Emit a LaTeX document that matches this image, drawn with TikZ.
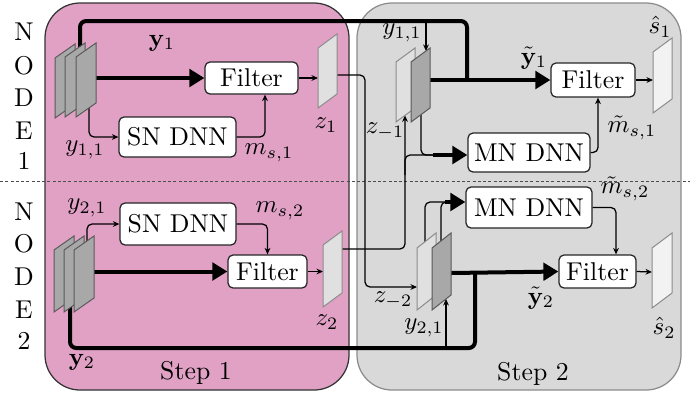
\documentclass[tikz,border=0pt]{standalone}
\usetikzlibrary{arrows.meta}
\definecolor{pinkbg}{RGB}{224,161,197}
\definecolor{graybg}{RGB}{217,217,217}
\definecolor{darkplate}{RGB}{168,168,168}
\definecolor{lightplate}{RGB}{224,224,224}
\definecolor{outplate}{RGB}{242,242,242}
\newcommand\myplate[6]{\draw[#6] (#1,#2) -- ++(0,-#3) -- ++(#4,-#5) -- ++(0,#3) -- cycle;}
\tikzset{
  txt/.style={font=\fontsize{10.3}{12}\selectfont},
  blk/.style={txt, draw=black!85, fill=white, rounded corners=2pt, line width=0.5pt, inner sep=0pt},
  conn/.style={line width=0.5pt, rounded corners=2pt},
  arr/.style={conn, -{Stealth[length=2.6pt,width=2.3pt]}},
  big/.style={line width=1.6pt, rounded corners=2.5pt},
  bigarr/.style={big, -{Triangle[length=6pt,width=7pt]}},
  lbl/.style={txt, inner sep=0pt},
  dplate/.style={fill=darkplate, draw=black!65, line width=0.4pt},
  lplate/.style={fill=lightplate, draw=black!45, line width=0.4pt},
  oplate/.style={fill=outplate, draw=black!45, line width=0.4pt},
}
\begin{document}
\begin{tikzpicture}[x=0.4pt,y=-0.4pt]
\useasboundingbox (0,0) rectangle (700,396);
% step boxes
\path[fill=pinkbg, draw=black!80, line width=0.5pt, rounded corners=14pt] (45,3) rectangle (349,390);
\path[fill=graybg, draw=black!45, line width=0.5pt, rounded corners=14pt] (357,3) rectangle (681,390);
\draw[dash pattern=on 1.2pt off 0.9pt, black!70, line width=0.35pt] (0,181) -- (690,181);
% left labels
\foreach \t/\y [count=\i] in {N/32,O/66,D/98,E/131,1/161} \node[lbl] (la\i) at (24,\y) {\t};
\foreach \t/\y [count=\i] in {N/212,O/244,D/277,E/310,2/341} \node[lbl] (lb\i) at (24,\y) {\t};
% blocks
\node[blk, minimum width=37.2pt, minimum height=12.8pt] (f11) at (251.5,78) {Filter};
\node[blk, minimum width=46.8pt, minimum height=16pt] (sn1) at (177.5,137) {SN DNN};
\node[blk, minimum width=46.4pt, minimum height=16.8pt] (sn2) at (178,224) {SN DNN};
\node[blk, minimum width=31.6pt, minimum height=13.2pt] (f21) at (267.5,271.5) {Filter};
\node[blk, minimum width=33.6pt, minimum height=13.6pt] (f12) at (593,80) {Filter};
\node[blk, minimum width=48.8pt, minimum height=15.6pt] (mn1) at (529,152.5) {MN DNN};
\node[blk, minimum width=50.4pt, minimum height=16.4pt] (mn2) at (529,207.5) {MN DNN};
\node[blk, minimum width=30.8pt, minimum height=13.2pt] (f22) at (597.5,271.5) {Filter};
% coordinates
\coordinate (s1a) at (96,78);
\coordinate (s1top) at (80,60);
\coordinate (s1bot) at (89,100);
\coordinate (z1in) at (318,78);
\coordinate (z1out) at (337,75);
\coordinate (s2a) at (94,271.5);
\coordinate (s2top) at (87,245);
\coordinate (s2bot) at (70,300);
\coordinate (z2in) at (323,271.5);
\coordinate (z2out) at (342,249);
\coordinate (d1out) at (430,80);
\coordinate (d1top) at (426,51);
\coordinate (d1bot) at (421,110);
\coordinate (l1bot) at (405,115.4);
\coordinate (j1) at (433,155);
\coordinate (d2out) at (451,273);
\coordinate (d2top) at (441,245);
\coordinate (d2bot) at (446,299);
\coordinate (l2top) at (425,245);
\coordinate (l2in) at (417,287);
\coordinate (j2) at (445,202);
\coordinate (o1in) at (653,80);
\coordinate (o2in) at (652,272);
% step 1, node 1
\draw[big] (s1top) |- (467,21) -- (467,80);
\draw[bigarr] (s1a) -- (f11.west);
\draw[arr] (s1bot) |- (sn1.west);
\draw[arr] (sn1.east) -| ([xshift=5.4pt]f11.south);
\draw[arr] (f11.east) -- (z1in);
% step 1, node 2
\draw[big] (s2bot) |- (475,348) -- (475,273);
\draw[bigarr] (s2a) -- (f21.west);
\draw[arr] (s2top) |- (sn2.west);
\draw[arr] (sn2.east) -| (f21.north);
\draw[arr] (f21.east) -- (z2in);
% exchanges
\draw[arr] (z1out) -| (365,200) |- (l2in);
\draw[arr] (z2out) -| (l1bot);
\draw[conn] (405,175) |- (j1);
\draw[conn] (d1bot) |- (j1);
\draw[bigarr] (j1) -- (mn1.west |- j1);
\draw[conn] (l2top) |- (j2);
\draw[conn] (d2top) |- (j2);
\draw[bigarr] (j2) -- (mn2.west |- j2);
% step 2, node 1
\draw[arr] (426,21) -- (d1top);
\draw[bigarr] (d1out) -- (f12.west);
\draw[arr] (mn1.east) -| ([xshift=2pt]f12.south);
\draw[arr] (f12.east) -- (o1in);
% step 2, node 2
\draw[arr] (446,348) -- (d2bot);
\draw[bigarr] (d2out) -- (f22.west);
\draw[arr] (mn2.east) -| ([xshift=7.4pt]f22.north);
\draw[arr] (f22.east) -- (o2in);
% plates
\myplate{55}{118}{60}{20}{14}{dplate}
\myplate{65}{117}{60}{20}{14}{dplate}
\myplate{76}{117}{60}{20}{14}{dplate}
\myplate{54}{312}{62}{20}{14}{dplate}
\myplate{64}{312}{62}{20}{14}{dplate}
\myplate{74}{312}{62}{20}{14}{dplate}
\myplate{318}{108}{60}{19}{14}{lplate}
\myplate{323}{307}{62}{19}{14}{lplate}
\myplate{396}{122}{60}{19}{14}{lplate}
\myplate{411}{122}{60}{19}{14}{dplate}
\myplate{417}{310}{62}{19}{15}{lplate}
\myplate{432}{310}{62}{19}{15}{dplate}
\myplate{653}{113}{61}{19}{14}{oplate}
\myplate{652}{308}{60}{20}{15}{oplate}
% labels
\node[lbl] (ly1) at (162,43) {$\mathbf{y}_1$};
\node[lbl] (ly11a) at (85,150) {$y_{1,1}$};
\node[lbl] (lm1) at (269,153) {$m_{s,1}$};
\node[lbl] (lz1) at (326,125) {$z_1$};
\node[lbl] (ly21a) at (87,208) {$y_{2,1}$};
\node[lbl] (lm2) at (280,211) {$m_{s,2}$};
\node[lbl] (lz2) at (327,322) {$z_2$};
\node[lbl] (ly2) at (82,362) {$\mathbf{y}_2$};
\node[lbl] (st1) at (196,373) {Step 1};
\node[lbl] (ly11b) at (402,33) {$y_{1,1}$};
\node[lbl] (lzm1) at (385,131) {$z_{-1}$};
\node[lbl] (lty1) at (534,58) {$\tilde{\mathbf{y}}_1$};
\node[lbl] (ls1) at (660,27) {$\hat{s}_1$};
\node[lbl] (ltm1) at (632,128) {$\tilde{m}_{s,1}$};
\node[lbl] (ltm2) at (625,189) {$\tilde{m}_{s,2}$};
\node[lbl] (lzm2) at (393,300) {$z_{-2}$};
\node[lbl] (ly21b) at (424,328) {$y_{2,1}$};
\node[lbl] (lty2) at (541,298) {$\tilde{\mathbf{y}}_2$};
\node[lbl] (ls2) at (664,328) {$\hat{s}_2$};
\node[lbl] (st2) at (533,374) {Step 2};
\end{tikzpicture}
\end{document}
